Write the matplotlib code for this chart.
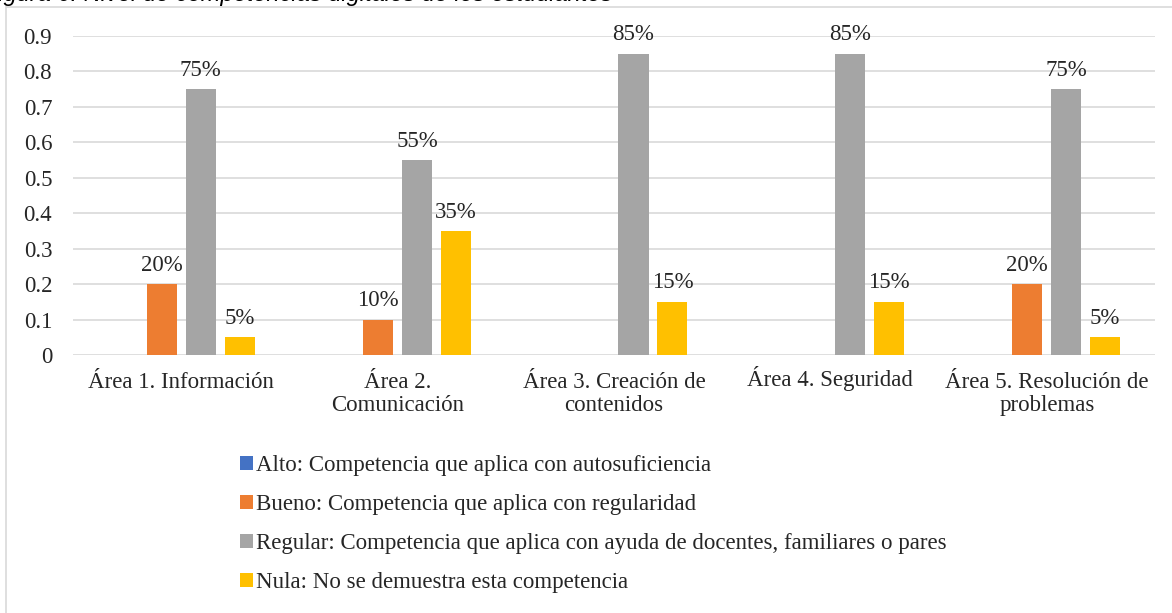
import numpy as np
import matplotlib.pyplot as plt
import matplotlib.transforms as mtrans
from matplotlib.patches import Rectangle

plt.rcParams['font.family'] = ['Liberation Serif', 'DejaVu Serif']

areas = ['Área 1. Información', 'Área 2.\nComunicación', 'Área 3. Creación de\ncontenidos',
         'Área 4. Seguridad', 'Área 5. Resolución de\nproblemas']
series = ['Alto: Competencia que aplica con autosuficiencia',
          'Bueno: Competencia que aplica con regularidad',
          'Regular: Competencia que aplica con ayuda de docentes, familiares o pares',
          'Nula: No se demuestra esta competencia']
alto = [0, 0, 0, 0, 0]
bueno = [0.20, 0.10, 0, 0, 0.20]
regular = [0.75, 0.55, 0.85, 0.85, 0.75]
nula = [0.05, 0.35, 0.15, 0.15, 0.05]
colores = ['#4472C4', '#ED7D31', '#A5A5A5', '#FFC000']

fs = 16.5
fig = plt.figure(figsize=(11.72, 6.13), dpi=100)
ax = fig.add_axes([0.0623, 0.4209, 0.9232, 0.5204])

x = np.arange(len(areas))
ancho = 0.139
paso = 0.18
for i, (vals, nombre, c) in enumerate(zip([alto, bueno, regular, nula], series, colores)):
    pos = x + (i - 1.5) * paso
    barras = ax.bar(pos, vals, ancho, color=c, label=nombre, zorder=3)
    for b, v in zip(barras, vals):
        if v > 0:
            ax.annotate('%d%%' % round(v * 100), (b.get_x() + b.get_width() / 2, v),
                        xytext=(0, 6), textcoords='offset points', ha='center', va='bottom',
                        fontsize=fs, color='#262626')

ax.set_xlim(-0.5, len(areas) - 0.5)
ax.set_ylim(0, 0.9)
ax.set_yticks(np.arange(0, 0.91, 0.1))
ax.set_yticklabels(['0'] + ['%.1f' % v for v in np.arange(0.1, 0.91, 0.1)])
ax.set_xticks(x)
ax.set_xticklabels(areas, linespacing=1.12)
ax.tick_params(length=0, labelsize=fs, colors='#262626')
ax.tick_params(axis='y', pad=15)
ax.tick_params(axis='x', pad=12)
ax.yaxis.grid(True, color='#d9d9d9', lw=1.2, zorder=0)
for s in ax.spines.values():
    s.set_visible(False)
# la etiqueta de una sola linea un poco mas arriba
lbl = ax.get_xticklabels()[3]
lbl.set_transform(lbl.get_transform() + mtrans.ScaledTranslation(0, 4 / 72, fig.dpi_scale_trans))

fig.legend(loc='upper left', bbox_to_anchor=(0.205, 0.257), frameon=False, fontsize=fs,
           handlelength=0.55, handleheight=0.55, handletextpad=0.15, labelspacing=0.78,
           borderaxespad=0, borderpad=0, labelcolor='#262626')

# borde del grafico
fig.patches.append(Rectangle((6 / 1172, -0.1), 1.2, 1 - 7 / 613 + 0.1, transform=fig.transFigure,
                             fill=False, edgecolor='#d9d9d9', lw=1.2))
# titulo cortado
fig.text(-0.014, 1 - 1 / 613, 'Figura 6. Nivel de competencias digitales de los estudiantes',
         family='Liberation Sans', style='italic', fontsize=17, ha='left', va='baseline')

fig.savefig('out.png', dpi=100)
